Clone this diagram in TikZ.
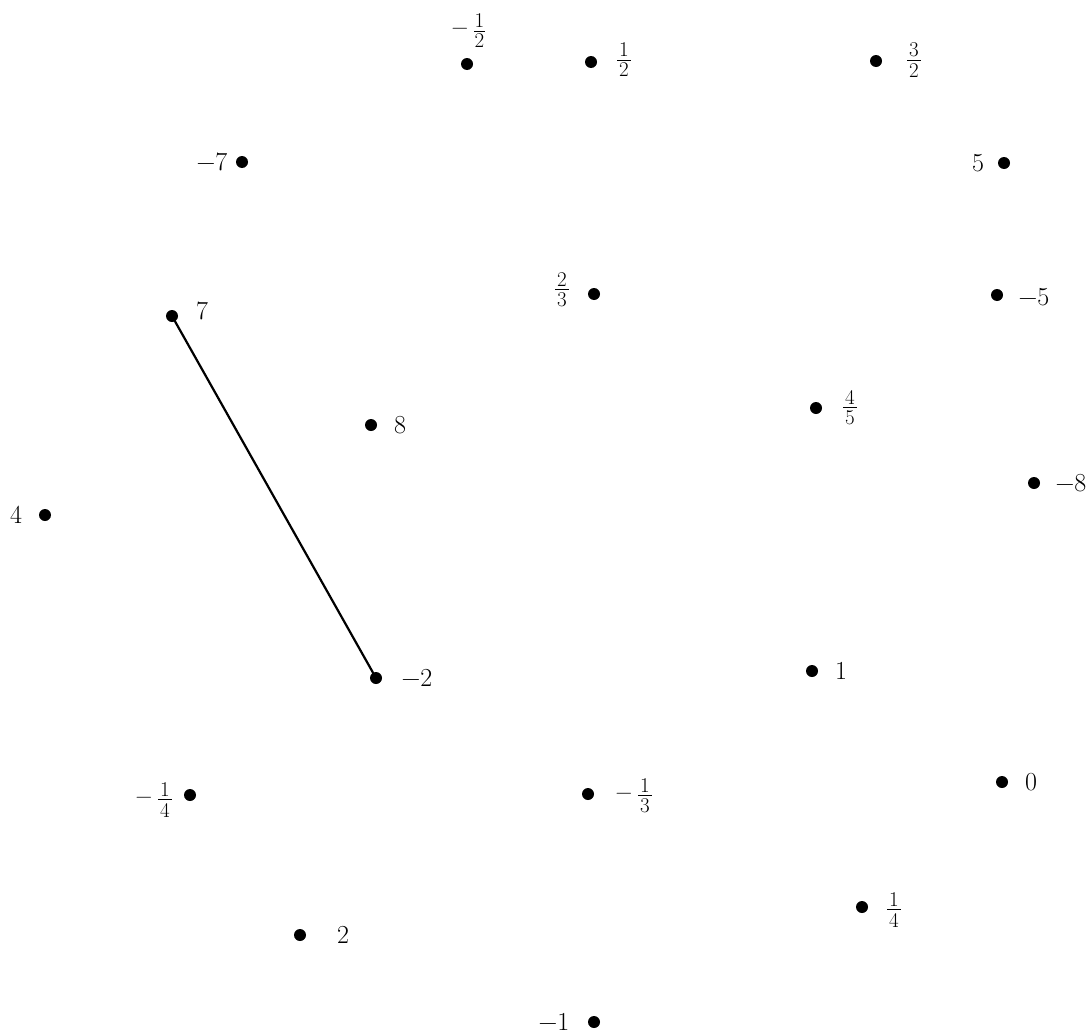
\documentclass[tikz,border=0pt]{standalone}
\usepackage{fontspec}
\setmainfont{Latin Modern Roman}
\newcommand{\fr}[2]{\begingroup\fontsize{21}{21}\selectfont
  \setbox0\hbox{#1}\setbox2\hbox{#2}%
  \dimen0=\ifdim\wd0>\wd2 \wd0\else\wd2\fi
  \advance\dimen0 by 4pt
  $\vcenter{\hbox to\dimen0{\hss\box0\hss}\kern2.6pt\hrule height0.9pt\kern2.6pt\hbox to\dimen0{\hss\box2\hss}}$\endgroup}
\newcommand{\mfr}[2]{{\fontsize{23}{23}\selectfont\raisebox{2pt}{−}}\hspace{6pt}\fr{#1}{#2}}
\begin{document}
\begin{tikzpicture}[x=1pt,y=-1pt,
  pt/.style={circle,fill=black,inner sep=0pt,minimum size=12pt},
  lab/.style={inner sep=0pt,font=\fontsize{26}{30}\selectfont}]
\useasboundingbox (0,0) rectangle (1090,1036);
% dots
\node[pt] (mhalf) at (467,64) {};
\node[pt] (half) at (591,62) {};
\node[pt] (thalf) at (876,61) {};
\node[pt] (m7) at (242,162) {};
\node[pt] (p5) at (1004,163) {};
\node[pt] (p7) at (172,316) {};
\node[pt] (twoth) at (594,294) {};
\node[pt] (m5) at (997,295) {};
\node[pt] (p8) at (371,425) {};
\node[pt] (fourf) at (816,408) {};
\node[pt] (p4) at (45,515) {};
\node[pt] (m8) at (1034,483) {};
\node[pt] (m2) at (376,678) {};
\node[pt] (p1) at (812,671) {};
\node[pt] (mquar) at (190,795) {};
\node[pt] (mthird) at (588,794) {};
\node[pt] (p0) at (1002,782) {};
\node[pt] (quar) at (862,907) {};
\node[pt] (p2) at (300,935) {};
\node[pt] (m1) at (594,1022) {};
% labels
\node[lab,anchor=east] (lmhalf) at (485,31) {\mfr{1}{2}};
\node[lab] (lhalf) at (624,60) {\fr{1}{2}};
\node[lab] (lthalf) at (914,60) {\fr{3}{2}};
\node[lab] (lm7) at (212,162) {−7};
\node[lab] (lp5) at (978,163) {5};
\node[lab] (lp7) at (202,311) {7};
\node[lab] (ltwoth) at (562,290) {\fr{2}{3}};
\node[lab] (lm5) at (1034,297) {−5};
\node[lab] (lp8) at (400,425) {8};
\node[lab] (lfourf) at (850,408) {\fr{4}{5}};
\node[lab] (lp4) at (16,515) {4};
\node[lab] (lm8) at (1071,483) {−8};
\node[lab] (lm2) at (417,678) {−2};
\node[lab] (lp1) at (841,671) {1};
\node[lab,anchor=east] (lmquar) at (172,800) {\mfr{1}{4}};
\node[lab,anchor=east] (lmthird) at (652,796) {\mfr{1}{3}};
\node[lab] (lp0) at (1031,782) {0};
\node[lab] (lquar) at (894,910) {\fr{1}{4}};
\node[lab] (lp2) at (343,935) {2};
\node[lab] (lm1) at (554,1022) {−1};
% connector
\draw[line width=2.2pt] (p7.center) -- (m2.center);
\end{tikzpicture}
\end{document}
